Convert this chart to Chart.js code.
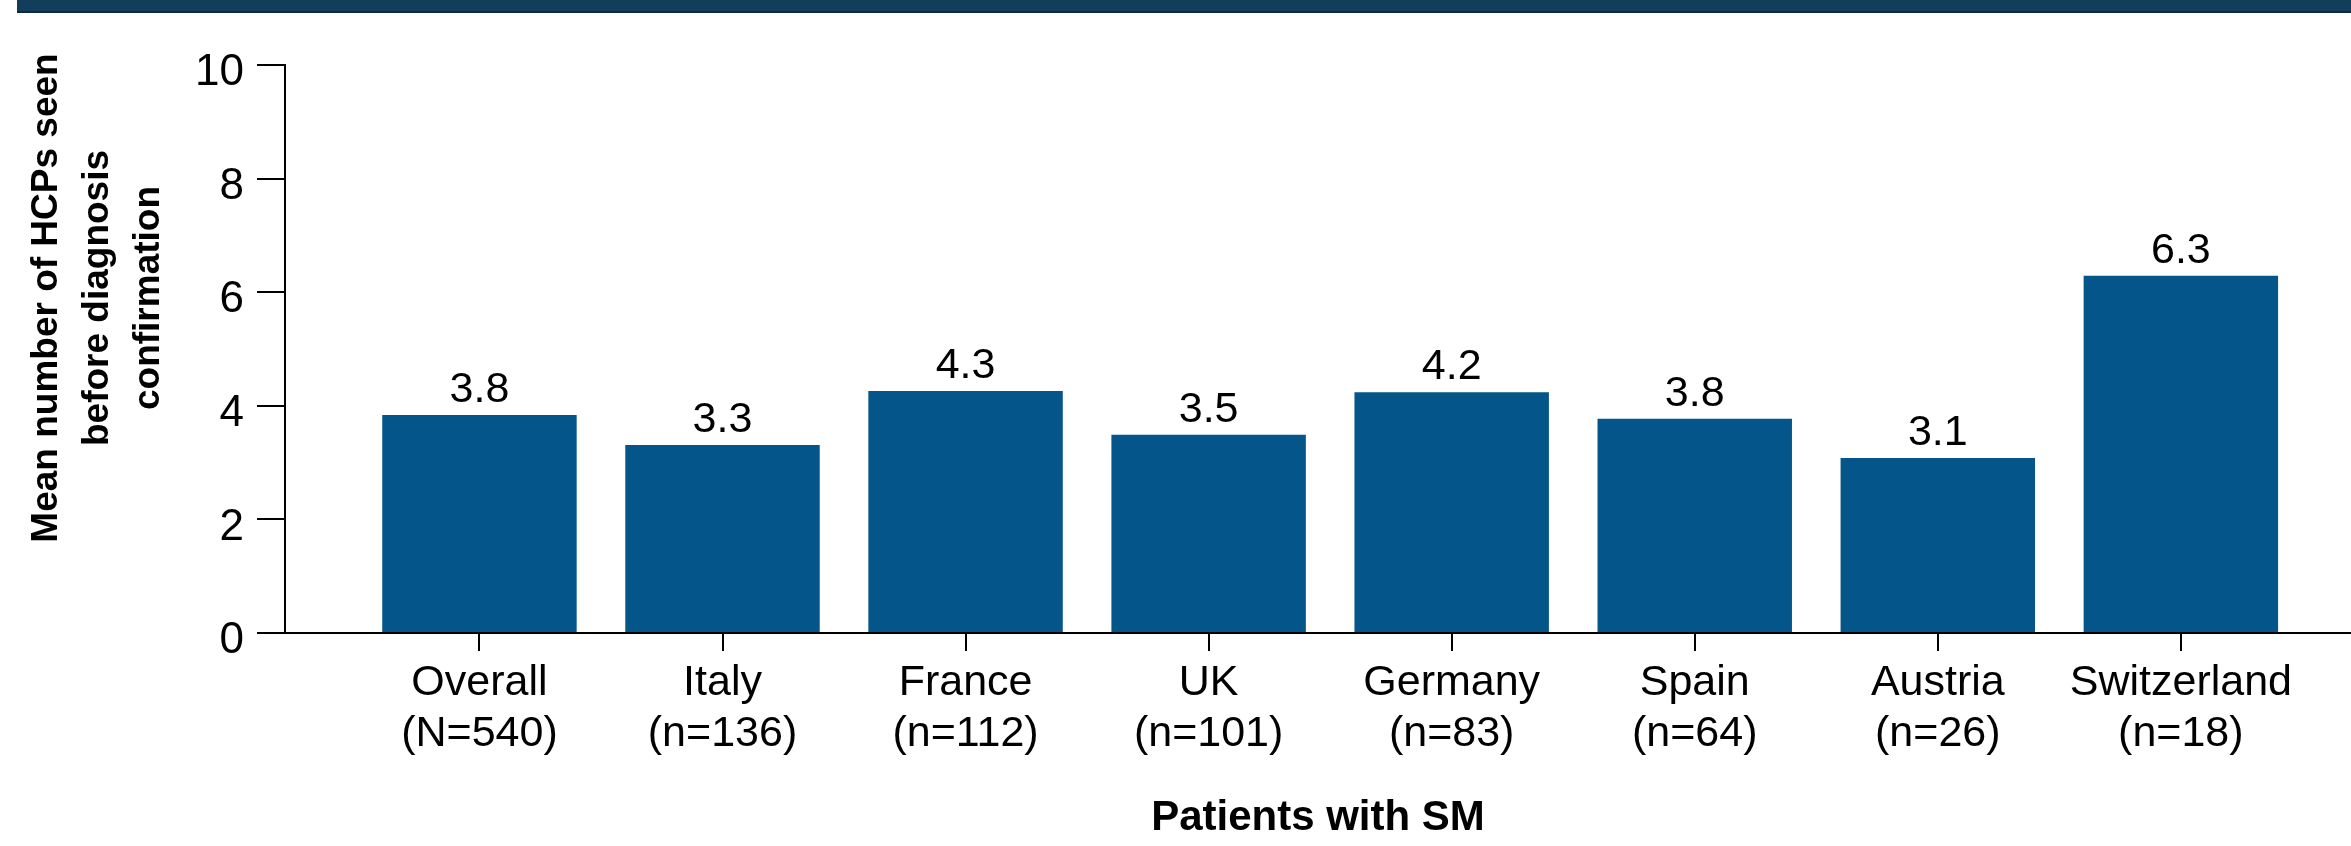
<!DOCTYPE html>
<html>
<head>
<meta charset="utf-8">
<script src="https://cdn.jsdelivr.net/npm/chart.js@4.4.1/dist/chart.umd.min.js"></script>
<style>
  html, body { margin: 0; padding: 0; background: #fff; }
  #wrap { position: relative; width: 2351px; height: 846px; }
  #band { position: absolute; left: 17px; top: 0; width: 2334px; height: 11px; background: #123e5c; border-bottom: 2px solid #0a2b42; }
</style>
</head>
<body>
<div id="wrap">
  <canvas id="hcp-chart" width="2351" height="846"></canvas>
  <div id="band"></div>
</div>
<script>
// ====== Data ======
const countries = ['Overall', 'Italy', 'France', 'UK', 'Germany', 'Spain', 'Austria', 'Switzerland'];
const sampleSizes = ['(N=540)', '(n=136)', '(n=112)', '(n=101)', '(n=83)', '(n=64)', '(n=26)', '(n=18)'];
const meanHcps = [3.84, 3.31, 4.26, 3.49, 4.24, 3.77, 3.08, 6.29];
const yTicks = [0, 2, 4, 6, 8, 10];
const yTitle = ['Mean number of HCPs seen', 'before diagnosis', 'confirmation'];
const xTitle = 'Patients with SM';

const FONT = '"Liberation Sans", Arial, Helvetica, sans-serif';
const BAR_COLOR = '#03558a';

// value labels on top of the bars
const valueLabels = {
  id: 'valueLabels',
  afterDatasetsDraw(chart) {
    const ctx = chart.ctx;
    const meta = chart.getDatasetMeta(0);
    ctx.save();
    ctx.font = '43px ' + FONT;
    ctx.fillStyle = '#000';
    ctx.textAlign = 'center';
    ctx.textBaseline = 'alphabetic';
    meta.data.forEach((bar, i) => {
      ctx.fillText(meanHcps[i].toFixed(1), bar.x, bar.y - 13);
    });
    ctx.restore();
  }
};

// rotated y axis title (sits higher than the plot centre in the original)
const yAxisTitle = {
  id: 'yAxisTitle',
  afterDraw(chart) {
    const ctx = chart.ctx;
    ctx.save();
    ctx.translate(0, 298);
    ctx.rotate(-Math.PI / 2);
    ctx.font = 'bold 37px ' + FONT;
    ctx.fillStyle = '#000';
    ctx.textAlign = 'center';
    ctx.textBaseline = 'middle';
    yTitle.forEach((line, i) => {
      ctx.fillText(line, 0, 47 + i * 51);
    });
    ctx.restore();
  }
};

const ctx = document.getElementById('hcp-chart').getContext('2d');
new Chart(ctx, {
  type: 'bar',
  data: {
    datasets: [{
      data: countries.map((c, i) => ({ x: i, y: meanHcps[i] })),
      backgroundColor: BAR_COLOR,
      borderWidth: 0,
      categoryPercentage: 1,
      barPercentage: 0.8
    }]
  },
  options: {
    responsive: false,
    animation: false,
    events: [],
    layout: { padding: { top: 65, left: 0, right: 0, bottom: 0 } },
    plugins: {
      legend: { display: false },
      tooltip: { enabled: false }
    },
    scales: {
      x: {
        type: 'linear',
        min: -0.8,
        max: 7.7,
        bounds: 'data',
        offset: false,
        afterFit(scale) { scale.height = 213; },
        afterBuildTicks(scale) { scale.ticks = countries.map((c, i) => ({ value: i })); },
        border: { display: true, color: '#000', width: 2 },
        grid: { offset: false, drawOnChartArea: false, drawTicks: true, tickLength: 18, color: '#000', lineWidth: 2 },
        ticks: {
          autoSkip: false,
          maxRotation: 0,
          minRotation: 0,
          padding: 6,
          color: '#000',
          font: { family: FONT, size: 43, lineHeight: 1.2 },
          callback: (value) => [countries[value], sampleSizes[value]]
        },
        title: {
          display: true,
          text: xTitle,
          color: '#000',
          font: { family: FONT, size: 42, weight: 'bold', lineHeight: 1.2 },
          padding: { top: 0, bottom: 2 }
        }
      },
      y: {
        min: yTicks[0],
        max: yTicks[yTicks.length - 1],
        afterFit(scale) { scale.width = 285; },
        afterBuildTicks(scale) { scale.ticks = yTicks.map(v => ({ value: v })); },
        border: { display: true, color: '#000', width: 2 },
        grid: { drawOnChartArea: false, drawTicks: true, tickLength: 28, color: '#000', lineWidth: 2 },
        ticks: {
          padding: 13,
          labelOffset: 8,
          color: '#000',
          font: { family: FONT, size: 44 }
        }
      }
    }
  },
  plugins: [valueLabels, yAxisTitle]
});
</script>
</body>
</html>
